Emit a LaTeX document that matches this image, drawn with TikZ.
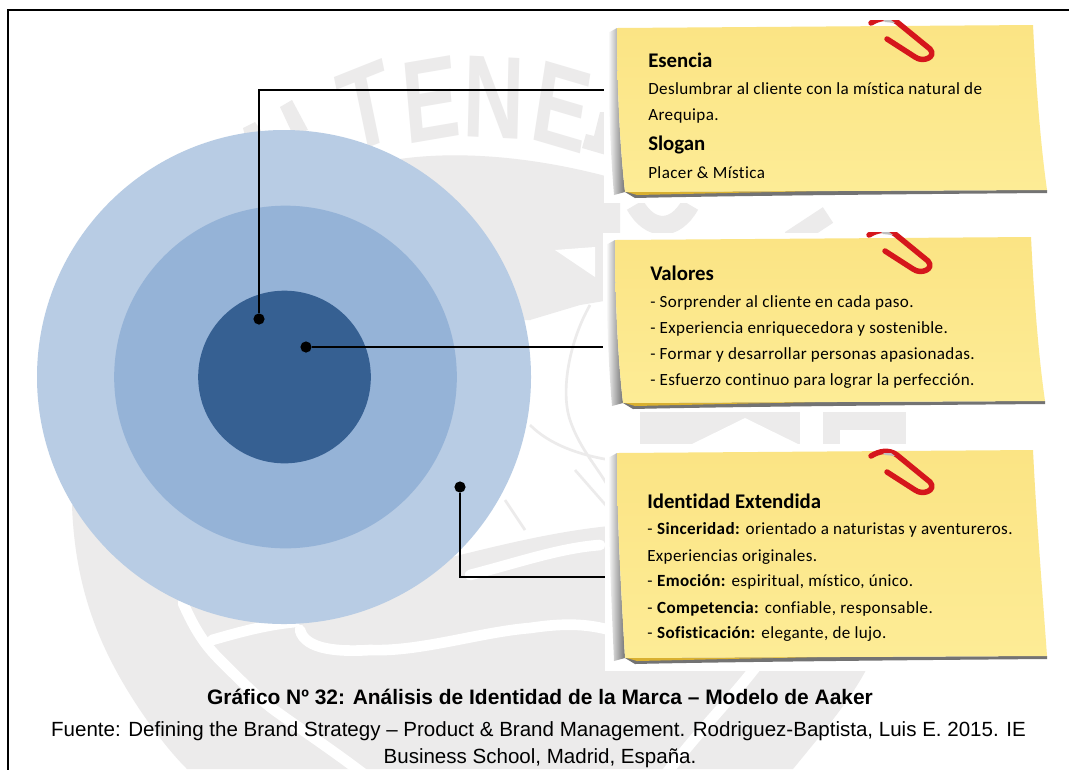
\documentclass[tikz,border=0pt]{standalone}
\usepackage{fontspec}
\setmainfont{Carlito}[Ligatures=NoCommon]
\newfontfamily\bodyfont{Carlito}[LetterSpace=2.2,Ligatures=NoCommon]
\newfontfamily\capfont{Liberation Sans}
\usetikzlibrary{calc}
\definecolor{wm}{HTML}{ECEBEB}
\definecolor{ringA}{HTML}{B8CCE4}
\definecolor{ringB}{HTML}{95B3D7}
\definecolor{ringC}{HTML}{366092}
\definecolor{paperA}{HTML}{FBE484}
\definecolor{paperB}{HTML}{FDEB92}
\definecolor{paperC}{HTML}{FDEC96}
\definecolor{clipred}{HTML}{D5161C}
\definecolor{fold}{HTML}{D9B030}
\tikzset{
  ring/.style={circle,inner sep=0pt,outer sep=0pt,draw=none},
  dotmark/.style={circle,fill=black,inner sep=0pt,minimum size=8.4pt},
  conn/.style={line width=2.1pt,black},
  notebg/.style={rectangle,fill=white,inner sep=0pt,outer sep=0pt,anchor=north west},
  head/.style={anchor=base west,inner sep=0pt,font=\fontsize{15.6}{18}\selectfont\bfseries},
  body/.style={anchor=base west,inner sep=0pt,font=\bodyfont\fontsize{12.8}{15}\selectfont},
  wmletter/.style={text=wm,inner sep=0pt,font=\capfont\bfseries\fontsize{88}{90}\selectfont,xscale=0.72,transform shape},
  wmline/.style={draw=wm,line width=2pt},
  wmrib/.style={draw=white,line width=8pt,line cap=round}
}
\newcommand{\stickynote}[4]{%
 \begin{scope}[shift={(#1,#2)}]
  \shade[left color=white,right color=black!55] (-9,5) -- (0,0) .. controls (0,60) and (3,120) .. (8,#3) -- (-3,#3+3) .. controls (-7,120) and (-9,60) .. cycle;
  \fill[black!55] (8,#3) -- (430,#3-2) -- (430,#3+1) .. controls (300,#3+2) and (100,#3+4) .. (18,#3+6) -- cycle;
  \fill[fold] (10,#3) -- (200,#3-1) -- (20,#3+3) -- cycle;
  \shade[top color=paperA,middle color=paperB,bottom color=paperC]
    (0,0) -- (416,-3) .. controls (419,60) and (424,120) .. (430,#3-2) -- (8,#3) .. controls (3,120) and (0,60) .. cycle;
  \begin{scope}
   \clip (240,-8) rectangle (330,60);
   \draw[clipred,line width=4.1pt,line cap=round,line join=round]
     (254,-5+#4) .. controls (262,-10+#4) and (272,-12+#4) .. (280,-6+#4)
     -- (313,21+#4) .. controls (320,29+#4) and (306,35+#4) .. (298,29+#4) -- (270,11+#4);
   \fill[black!25] (266,-8+#4) -- (274,-8+#4) -- (278,-5+#4) -- (268,-6+#4) -- cycle;
  \end{scope}
 \end{scope}}
\begin{document}
\begin{tikzpicture}[x=0.75pt,y=-0.75pt]
\useasboundingbox (0,0) rectangle (1069,769);
\fill[white] (0,0) rectangle (1069,769);
% watermark
\fill[wm] (300,200) .. controls (350,150) and (480,140) .. (620,180) -- (620,236) -- (595,236) -- (560,262) -- (530,320) -- (400,320) -- cycle;
\fill[wm] (530,240) -- (610,235) -- (610,300) -- (580,305) -- (530,320) -- cycle;
\fill[white] (555,250) -- (595,247) -- (595,277) -- cycle;
\fill[wm] (72,505) .. controls (75,590) and (100,650) .. (140,710) .. controls (155,732) and (170,752) .. (187,769) -- (793,769) .. controls (825,730) and (850,700) .. (866,670) -- (620,640) -- (620,525) .. controls (560,530) and (500,545) .. (440,560) -- (160,520) -- cycle;
\draw[wmrib] (183,603) .. controls (195,630) and (205,645) .. (220,660) .. controls (240,680) and (260,700) .. (277,712) .. controls (305,732) and (335,752) .. (365,775);
\draw[wmrib] (212,640) .. controls (240,632) and (265,625) .. (295,622);
\draw[wmrib] (300,630) .. controls (305,650) and (340,652) .. (370,650) .. controls (420,652) and (480,632) .. (530,628) .. controls (570,622) and (590,625) .. (610,630);
\draw[wmrib] (470,575) .. controls (520,562) and (560,548) .. (600,545);
\draw[wmrib] (755,668) .. controls (730,700) and (700,730) .. (665,775);
\draw[wm,line width=14pt] (635,205) .. controls (650,232) and (675,232) .. (690,205);
\draw[wm,line width=14pt] (790,240) -- (828,215);
\fill[wm] (640,412) -- (800,412) -- (800,445) -- (640,445) -- cycle;
\fill[white] (690,445) -- (745,418) -- (800,445) -- cycle;
\fill[wm] (823,412) rectangle (906,445);
\fill[white] (840,430) rectangle (880,445);
\draw[wmline] (590,305) .. controls (570,340) and (560,390) .. (570,420) .. controls (580,450) and (600,470) .. (610,490);
\draw[wmline] (530,425) .. controls (550,445) and (580,455) .. (610,460);
\draw[wmline] (505,500) -- (525,530);
\draw[wmline] (575,470) -- (610,510);
\fill[wm] (280,107) -- (292,100) -- (308,130) -- (293,135) -- cycle;
\fill[wm] (243,128) -- (255,122) -- (262,132) -- (245,136) -- cycle;
\node[wmletter,rotate=16] (wmT) at (366,107) {T};
\node[wmletter,rotate=7] (wmEa) at (431,100) {E};
\node[wmletter,rotate=-2] (wmNb) at (494,98) {N};
\node[wmletter,rotate=-12] (wmEb) at (562,107) {E};
\fill[wm] (600,112) -- (606,112) -- (606,155) -- (582,148) -- (586,134) -- (594,136) -- cycle;
% frame
\draw[line width=1.6pt,black] (8,775) -- (8,10) -- (1075,10);
% circles
\node[ring,fill=ringA,minimum size=370.5pt] (outer) at (284,377) {};
\node[ring,fill=ringB,minimum size=257pt] (middle) at (285.5,377) {};
\node[ring,fill=ringC,minimum size=129.5pt] (core) at (284.5,377) {};
% note backgrounds
\node[notebg,minimum width=334.5pt,minimum height=137.25pt] (noteA) at (604,20) {};
\node[notebg,minimum width=334.5pt,minimum height=134.25pt] (noteB) at (603,233) {};
\node[notebg,minimum width=334.5pt,minimum height=170.25pt] (noteC) at (605,444) {};
% dots and connectors
\node[dotmark] (dotA) at (259,319) {};
\node[dotmark] (dotB) at (306,347) {};
\node[dotmark] (dotC) at (460,487) {};
\coordinate (portA) at (noteA.west |- 0,90);
\coordinate (portB) at (noteB.west |- 0,347);
\coordinate (portC) at (noteC.west |- 0,577);
\draw[conn] (dotA) |- (portA);
\draw[conn] (dotB) -- (portB);
\draw[conn] (dotC) |- (portC);
% notes
\stickynote{617}{28}{164}{0}
\stickynote{615}{240}{163}{0}
\stickynote{617}{453}{205}{8}
\node[head] (t1) at (648,67) {Esencia};
\node[body] (t2) at (648,94) {Deslumbrar al cliente con la mística natural de};
\node[body] (t3) at (648,120) {Arequipa.};
\node[head] (t4) at (648,150) {Slogan};
\node[body] (t5) at (648,178) {Placer \& Mística};
\node[head] (t6) at (650,280) {Valores};
\node[body] (t7) at (650,307) {- Sorprender al cliente en cada paso.};
\node[body] (t8) at (650,333) {- Experiencia enriquecedora y sostenible.};
\node[body] (t9) at (650,359) {- Formar y desarrollar personas apasionadas.};
\node[body] (t10) at (650,385) {- Esfuerzo continuo para lograr la perfección.};
\node[head] (t11) at (647,508) {Identidad Extendida};
\node[body] (t12) at (647,534) {- \textbf{Sinceridad:} orientado a naturistas y aventureros.};
\node[body] (t13) at (647,561) {Experiencias originales.};
\node[body] (t14) at (647,586) {- \textbf{Emoción:} espiritual, místico, único.};
\node[body] (t15) at (647,613) {- \textbf{Competencia:} confiable, responsable.};
\node[body] (t16) at (647,638) {- \textbf{Sofisticación:} elegante, de lujo.};
% caption
\node[anchor=base,inner sep=0pt,font=\capfont\bfseries\fontsize{15.7}{18}\selectfont] (cap) at (540,704) {Gráfico Nº 32: Análisis de Identidad de la Marca – Modelo de Aaker};
\node[anchor=base,inner sep=0pt,font=\capfont\fontsize{15.4}{18}\selectfont] (src1) at (538.5,736) {Fuente: Defining the Brand Strategy – Product \& Brand Management. Rodriguez-Baptista, Luis E. 2015. IE};
\node[anchor=base,inner sep=0pt,font=\capfont\fontsize{15.4}{18}\selectfont] (src2) at (540,763) {Business School, Madrid, España.};
\end{tikzpicture}
\end{document}
